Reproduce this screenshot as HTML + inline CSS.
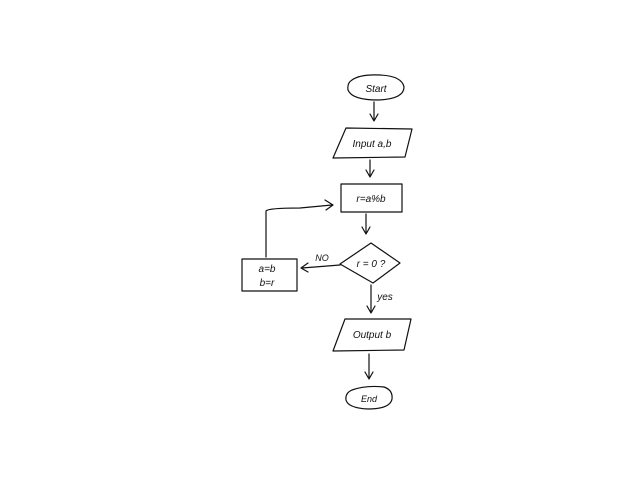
<!DOCTYPE html>
<html><head><style>body{margin:0;background:#fff}svg{display:block}</style></head><body>
<svg width="640" height="480" viewBox="0 0 640 480" xmlns="http://www.w3.org/2000/svg">
<g fill="none" stroke="#111" stroke-width="1.2" stroke-linecap="round" stroke-linejoin="round">
<path d="M352,80 Q360,74 380,75 Q402,76 404,87 Q404,99 378,100 Q352,100 348,90 Q347,83 352,80"/>
<path d="M374,102 L374,120 M370,114 L374,121 L378,114"/>
<path d="M346,128 L412,129 L405,157 L333,158 Z"/>
<path d="M370,160 L370,176 M366,170 L370,177 L374,170"/>
<path d="M341,184 L402,184 L402,212 L341,212 Z"/>
<path d="M366,214 L366,233 M362,227 L366,234 L370,227"/>
<path d="M371,243 L400,263 L373,283 L340,264 Z"/>
<path d="M340,265 L302,268 M308,263 L301,268 L308,272"/>
<path d="M242,259 L297,259 L297,291 L242,291 Z"/>
<path d="M266,257 L266,211 Q268,208 300,208 L332,205 M325,200 L333,205 L326,210"/>
<path d="M371,285 L371,312 M367,306 L371,313 L375,306"/>
<path d="M345,319 L411,319 L404,350 L333,351 Z"/>
<path d="M369,354 L369,378 M365,372 L369,379 L373,372"/>
<path d="M352,390 Q366,385 384,387 Q393,390 392,399 Q390,409 368,409 Q348,408 346,400 Q345,393 352,390"/>
</g>
<g font-family="Liberation Sans, sans-serif" font-size="10" fill="#111" font-style="italic">
<text x="376" y="92" text-anchor="middle">Start</text>
<text x="372" y="147" text-anchor="middle">Input a,b</text>
<text x="371" y="202" text-anchor="middle">r=a%b</text>
<text x="371" y="267" text-anchor="middle">r = 0 ?</text>
<text x="322" y="261" text-anchor="middle" font-size="9">NO</text>
<text x="267" y="272" text-anchor="middle">a=b</text>
<text x="267" y="286" text-anchor="middle">b=r</text>
<text x="385" y="300" text-anchor="middle">yes</text>
<text x="372" y="338" text-anchor="middle">Output b</text>
<text x="369" y="402" text-anchor="middle" font-size="9">End</text>
</g>
</svg>
</body></html>
